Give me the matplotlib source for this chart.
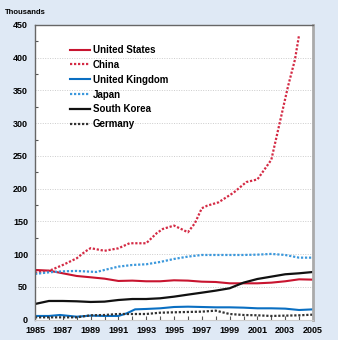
import matplotlib
matplotlib.use("Agg")
import matplotlib.pyplot as plt
from matplotlib.ticker import MultipleLocator

plt.rcParams['font.family'] = ['Liberation Sans', 'DejaVu Sans']
plt.rcParams['font.weight'] = 'bold'

# annual series, thousands
years = list(range(1985, 2006))
us = [75.7, 74.7, 70.6, 66.5, 64.5, 62.4, 58.9, 59.4, 58.4, 58.4, 59.9,
      59.4, 57.8, 57.3, 55.3, 55.3, 55.3, 56.3, 58.4, 61.4, 60.9]
uk_years = [1985, 1986, 1986.8, 1988, 1989, 1990, 1991, 1991.6, 1992.2, 1993,
            1994, 1995, 1996, 1997, 1998, 1999, 2000, 2001, 2002, 2003,
            2004, 2005]
uk = [5.4, 5.4, 6.9, 4.3, 5.9, 5.4, 5.4, 9.4, 15.5, 16.1, 17.1, 19.1,
      19.6, 19.1, 18.6, 18.6, 18.1, 17.1, 17.1, 16.6, 14.5, 15.5]
japan_years = [1985, 1986, 1987, 1988, 1989, 1989.4, 1990, 1991, 1992, 1993,
               1994, 1995, 1996, 1997, 1998, 1999, 2000, 2001, 2002, 2003,
               2004, 2005]
japan = [69.6, 72.1, 73.6, 74.2, 73.1, 72.6, 75.7, 80.8, 83.3, 84.4, 87.9,
         92.5, 96.1, 98.6, 98.6, 98.6, 98.6, 99.1, 100.2, 98.6, 94.5, 94.5]
korea = [23.7, 28.3, 28.3, 27.8, 26.8, 27.3, 29.8, 31.3, 31.3, 32.4, 34.9,
         38.0, 41.0, 44.1, 47.7, 56.3, 61.9, 65.5, 69.1, 70.6, 72.6]
germany = [3.3, 3.3, 3.3, 3.3, 6.4, 6.9, 8.4, 8.4, 8.4, 10.4, 11.0,
           11.5, 12.0, 13.5, 8.4, 6.9, 6.4, 5.4, 5.9, 6.4, 7.4]
china_years = [1985, 1986, 1987, 1988, 1988.6, 1989, 1990, 1991, 1991.8,
               1993, 1993.75, 1994.2, 1995, 1995.4, 1996, 1996.5, 1997,
               1997.4, 1998.2, 1999.3, 2000.2, 2001, 2002, 2002.6, 2003.2,
               2003.7, 2004]
china = [71.6, 74.2, 83.3, 93.5, 103.7, 109.0, 105.0, 108.8, 116.5, 116.5,
         131.8, 138.4, 143.5, 139.5, 133.3, 147.0, 170.0, 174.0, 179.0,
         194.0, 210.0, 214.0, 244.0, 300.0, 356.0, 397.0, 435.0]

fig = plt.figure(figsize=(3.38, 3.40), dpi=100, facecolor='#dfe9f5')
ax = fig.add_axes([35 / 338, 1 - 319.5 / 340, 278 / 338, 294.5 / 340])
ax.set_facecolor('white')

dot = (0, (1, 0.8))
ax.plot(years, us, color='#c8142f', lw=1.5, label='United States')
ax.plot(china_years, china, color='#d42a44', lw=1.6, ls=dot, label='China')
ax.plot(uk_years, uk, color='#0a6fc2', lw=1.5, label='United Kingdom')
ax.plot(japan_years, japan, color='#3b98dc', lw=1.6, ls=dot, label='Japan')
ax.plot(years, korea, color='#111111', lw=1.6, label='South Korea')
ax.plot(years, germany, color='#333333', lw=1.6, ls=dot, label='Germany')

ax.set_xlim(1985, 2005)
ax.set_ylim(0, 450)
ax.yaxis.set_major_locator(MultipleLocator(50))
ax.yaxis.set_minor_locator(MultipleLocator(25))
ax.set_xticks(years)
ax.set_xticklabels([str(y) if y % 2 == 1 else '' for y in years])
ax.tick_params(axis='x', direction='in', length=3, width=0.8,
               color='#555555', labelsize=6.5, pad=5)
ax.tick_params(axis='y', which='major', length=0, labelsize=6.5, pad=5)
ax.tick_params(axis='y', which='minor', direction='in', length=2.5,
               width=0.8, color='#555555')
ax.grid(axis='y', which='major', color='#cccccc', ls=(0, (1, 1.5)), lw=0.7)
ax.set_axisbelow(True)

for side in ['left', 'top']:
    ax.spines[side].set_color('#666666')
    ax.spines[side].set_linewidth(1.0)
ax.spines['right'].set_color('#aaaaaa')
ax.spines['right'].set_linewidth(2.0)
ax.spines['bottom'].set_color('#cccccc')
ax.spines['bottom'].set_linewidth(0.8)

fig.text(5 / 338, 1 - 13 / 340, 'Thousands', fontsize=5.5,
         fontweight='bold', va='center', ha='left')

ax.legend(loc='upper left', bbox_to_anchor=(70 / 338, 1 - 45 / 340),
          bbox_transform=fig.transFigure, frameon=False, fontsize=7,
          handlelength=2.1, handletextpad=0.25, labelspacing=0.5,
          borderpad=0, borderaxespad=0)

fig.savefig('out.png', dpi=100, facecolor=fig.get_facecolor())
